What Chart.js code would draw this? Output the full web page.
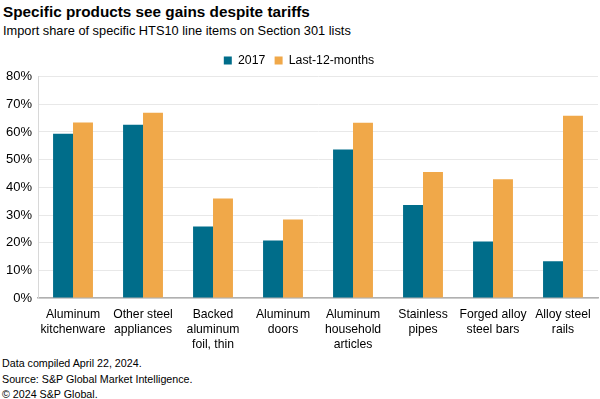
<!DOCTYPE html>
<html>
<head>
<meta charset="utf-8">
<script src="https://cdn.jsdelivr.net/npm/chart.js@4"></script>
<style>
  body { margin: 0; width: 600px; height: 399px; background: #fff; font-family: "Liberation Sans", Arial, sans-serif; color: #000; position: relative; overflow: hidden; }
  #title { position: absolute; left: 3px; top: 3px; font-size: 15.3px; font-weight: bold; }
  #subtitle { position: absolute; left: 3px; top: 23px; font-size: 12.8px; }
  #chartBox { position: absolute; left: 0; top: 45px; width: 600px; height: 308px; }
  #footer { position: absolute; left: 2px; top: 356px; font-size: 10.7px; line-height: 15.5px; }
</style>
</head>
<body>
<div id="title">Specific products see gains despite tariffs</div>
<div id="subtitle">Import share of specific HTS10 line items on Section 301 lists</div>
<div id="chartBox"><canvas id="chart"></canvas></div>
<div id="footer">Data compiled April 22, 2024.<br>Source: S&amp;P Global Market Intelligence.<br>© 2024 S&amp;P Global.</div>
<script>
const categories = [
    ['Aluminum', 'kitchenware'],
    ['Other steel', 'appliances'],
    ['Backed', 'aluminum', 'foil, thin'],
    ['Aluminum', 'doors'],
    ['Aluminum', 'household', 'articles'],
    ['Stainless', 'pipes'],
    ['Forged alloy', 'steel bars'],
    ['Alloy steel', 'rails']
];
const share2017 = [59.4, 62.6, 25.9, 20.8, 53.7, 33.6, 20.4, 13.3];
const shareLast12 = [63.4, 66.9, 36.0, 28.4, 63.3, 45.5, 42.9, 65.9];

const font = { family: '"Liberation Sans", Arial, sans-serif', size: 12.2 };

const ctx = document.getElementById('chart').getContext('2d');
new Chart(ctx, {
    type: 'bar',
    data: {
        labels: categories,
        datasets: [{
            label: '2017',
            data: share2017,
            backgroundColor: '#006d8a'
        }, {
            label: 'Last-12-months',
            data: shareLast12,
            backgroundColor: '#f0a849'
        }]
    },
    options: {
        responsive: true,
        maintainAspectRatio: false,
        animation: false,
        datasets: { bar: { categoryPercentage: 0.57, barPercentage: 1.0 } },
        layout: { padding: { left: 0, right: 2, top: 0, bottom: 0 } },
        plugins: {
            legend: {
                position: 'top',
                labels: {
                    boxWidth: 8,
                    boxHeight: 8,
                    color: '#000',
                    font: { family: font.family, size: 12.3 },
                    padding: 9.3
                }
            },
            tooltip: { enabled: false }
        },
        scales: {
            x: {
                grid: { display: false },
                border: { color: '#b0b0b0', width: 1.5 },
                ticks: { color: '#000', font: font, maxRotation: 0, autoSkip: false, padding: 1.5 }
            },
            y: {
                min: 0,
                max: 80,
                grid: { color: '#e8e8e8', drawTicks: false },
                border: { color: '#d8d8d8' },
                ticks: {
                    stepSize: 10,
                    color: '#000',
                    font: { family: font.family, size: 13 },
                    padding: 6,
                    callback: function(v) { return v + '%'; }
                }
            }
        }
    }
});
</script>
</body>
</html>
